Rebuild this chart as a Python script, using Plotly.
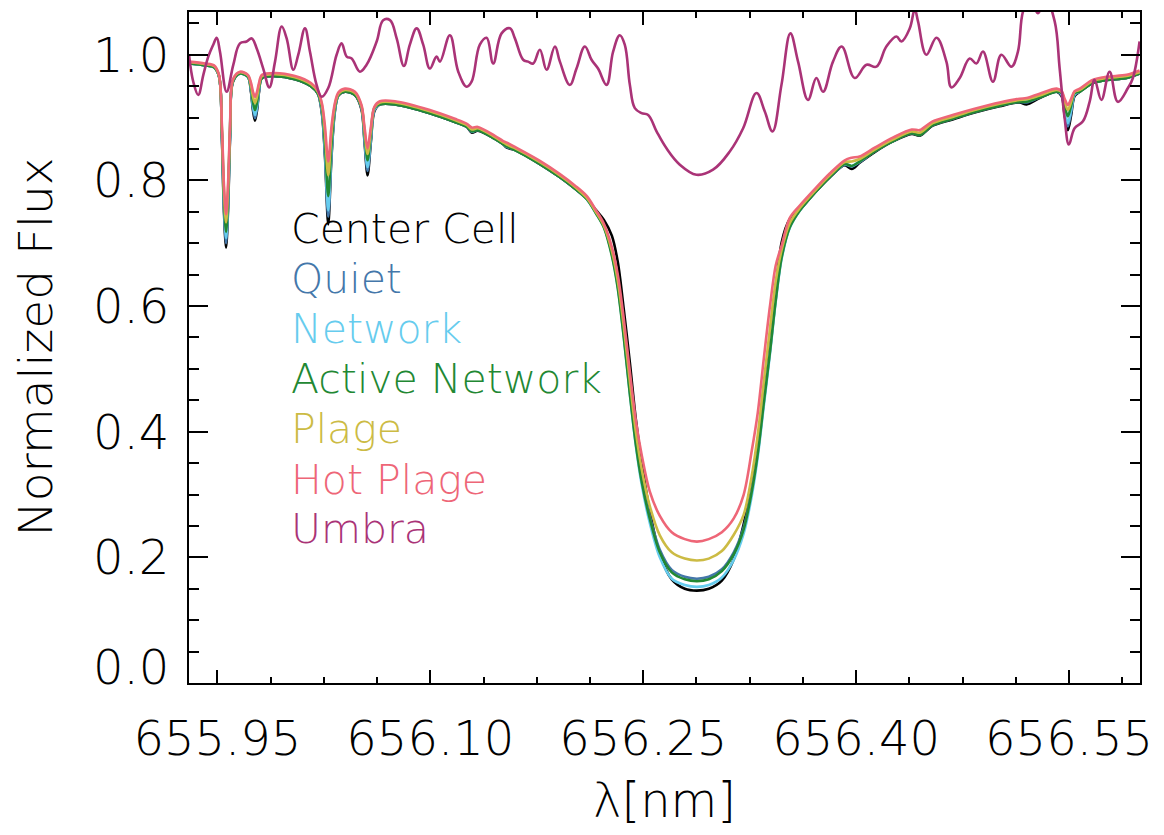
import plotly.graph_objects as go

# Wavelength grid (nm) shared by the six photospheric profiles
WAVELENGTH = [655.9300, 655.9413, 655.9476, 655.9511, 655.9532, 655.9546, 655.9561, 655.9575, 655.9589, 655.9610,
              655.9659, 655.9715, 655.9737, 655.9751, 655.9765, 655.9779, 655.9793, 655.9814, 655.9906, 656.0046,
              656.0159, 656.0208, 656.0237, 656.0258, 656.0281, 656.0304, 656.0328, 656.0353, 656.0399, 656.0469,
              656.0515, 656.0536, 656.0558, 656.0582, 656.0606, 656.0645, 656.0751, 656.0997, 656.1173, 656.1258,
              656.1293, 656.1335, 656.1455, 656.1511, 656.1539, 656.1589, 656.1772, 656.1913, 656.2018, 656.2103,
              656.2166, 656.2223, 656.2279, 656.2321, 656.2363, 656.2406, 656.2448, 656.2490, 656.2546, 656.2617,
              656.2701, 656.2793, 656.2878, 656.2962, 656.3054, 656.3138, 656.3208, 656.3265, 656.3307, 656.3349,
              656.3392, 656.3434, 656.3476, 656.3532, 656.3603, 656.3708, 656.3814, 656.3920, 656.3969, 656.4025,
              656.4131, 656.4258, 656.4392, 656.4448, 656.4539, 656.4680, 656.4835, 656.5011, 656.5152, 656.5201,
              656.5293, 656.5413, 656.5448, 656.5469, 656.5492, 656.5515, 656.5539, 656.5575, 656.5666, 656.5765,
              656.5906, 656.5997]

CENTER_CELL = [0.986, 0.983, 0.980, 0.966, 0.866, 0.752, 0.693, 0.752, 0.866, 0.957,
               0.970, 0.965, 0.940, 0.911, 0.895, 0.911, 0.940, 0.963, 0.966, 0.961,
               0.950, 0.938, 0.905, 0.838, 0.730, 0.838, 0.910, 0.935, 0.941, 0.936,
               0.913, 0.863, 0.808, 0.863, 0.910, 0.921, 0.921, 0.907, 0.893, 0.885,
               0.876, 0.879, 0.866, 0.858, 0.852, 0.849, 0.826, 0.805, 0.787, 0.771,
               0.753, 0.737, 0.712, 0.670, 0.595, 0.510, 0.420, 0.350, 0.274, 0.205,
               0.165, 0.150, 0.147, 0.150, 0.163, 0.197, 0.253, 0.320, 0.385, 0.460,
               0.534, 0.625, 0.702, 0.738, 0.753, 0.780, 0.805, 0.824, 0.818, 0.828,
               0.845, 0.862, 0.874, 0.871, 0.887, 0.897, 0.908, 0.918, 0.924, 0.921,
               0.931, 0.941, 0.934, 0.904, 0.880, 0.904, 0.934, 0.941, 0.955, 0.960,
               0.963, 0.970]

QUIET = [0.986, 0.983, 0.980, 0.966, 0.868, 0.758, 0.700, 0.758, 0.868, 0.958,
         0.970, 0.965, 0.942, 0.914, 0.899, 0.914, 0.942, 0.963, 0.966, 0.961,
         0.950, 0.938, 0.908, 0.842, 0.742, 0.842, 0.912, 0.936, 0.941, 0.936,
         0.915, 0.866, 0.815, 0.866, 0.912, 0.921, 0.921, 0.907, 0.893, 0.885,
         0.877, 0.880, 0.866, 0.858, 0.853, 0.849, 0.826, 0.805, 0.787, 0.770,
         0.749, 0.727, 0.684, 0.633, 0.556, 0.466, 0.386, 0.325, 0.266, 0.212,
         0.180, 0.169, 0.166, 0.169, 0.181, 0.208, 0.248, 0.308, 0.368, 0.447,
         0.527, 0.612, 0.680, 0.726, 0.752, 0.780, 0.805, 0.825, 0.822, 0.829,
         0.846, 0.862, 0.875, 0.872, 0.888, 0.898, 0.909, 0.919, 0.925, 0.924,
         0.932, 0.941, 0.936, 0.908, 0.886, 0.908, 0.936, 0.941, 0.955, 0.960,
         0.963, 0.970]

NETWORK = [0.986, 0.983, 0.980, 0.966, 0.871, 0.764, 0.708, 0.764, 0.871, 0.958,
           0.970, 0.965, 0.944, 0.918, 0.904, 0.918, 0.944, 0.964, 0.967, 0.962,
           0.951, 0.939, 0.910, 0.847, 0.752, 0.847, 0.913, 0.936, 0.942, 0.937,
           0.916, 0.870, 0.821, 0.870, 0.913, 0.922, 0.922, 0.908, 0.894, 0.886,
           0.878, 0.881, 0.867, 0.859, 0.854, 0.850, 0.827, 0.806, 0.788, 0.770,
           0.748, 0.726, 0.682, 0.630, 0.552, 0.460, 0.378, 0.315, 0.255, 0.200,
           0.166, 0.156, 0.153, 0.156, 0.168, 0.196, 0.238, 0.298, 0.360, 0.440,
           0.522, 0.608, 0.676, 0.724, 0.752, 0.781, 0.806, 0.826, 0.823, 0.830,
           0.847, 0.863, 0.876, 0.873, 0.889, 0.899, 0.910, 0.920, 0.926, 0.926,
           0.933, 0.942, 0.937, 0.912, 0.891, 0.912, 0.937, 0.942, 0.956, 0.961,
           0.964, 0.971]

ACTIVE_NETWORK = [0.986, 0.983, 0.980, 0.966, 0.875, 0.772, 0.718, 0.772, 0.875, 0.958,
                  0.970, 0.965, 0.947, 0.924, 0.912, 0.924, 0.947, 0.963, 0.966, 0.961,
                  0.950, 0.938, 0.914, 0.858, 0.775, 0.858, 0.916, 0.936, 0.941, 0.936,
                  0.917, 0.876, 0.832, 0.876, 0.915, 0.921, 0.921, 0.907, 0.893, 0.885,
                  0.878, 0.880, 0.866, 0.858, 0.854, 0.849, 0.826, 0.805, 0.787, 0.770,
                  0.748, 0.725, 0.680, 0.628, 0.550, 0.460, 0.380, 0.320, 0.262, 0.208,
                  0.176, 0.165, 0.162, 0.165, 0.178, 0.205, 0.245, 0.305, 0.365, 0.445,
                  0.525, 0.610, 0.678, 0.725, 0.752, 0.780, 0.805, 0.826, 0.823, 0.830,
                  0.846, 0.862, 0.875, 0.872, 0.888, 0.898, 0.909, 0.919, 0.925, 0.925,
                  0.932, 0.941, 0.939, 0.919, 0.902, 0.919, 0.939, 0.941, 0.955, 0.960,
                  0.963, 0.970]

PLAGE = [0.988, 0.985, 0.982, 0.967, 0.881, 0.784, 0.733, 0.784, 0.881, 0.960,
         0.972, 0.967, 0.951, 0.933, 0.923, 0.933, 0.951, 0.966, 0.969, 0.964,
         0.953, 0.941, 0.919, 0.875, 0.808, 0.875, 0.920, 0.938, 0.944, 0.939,
         0.918, 0.881, 0.842, 0.881, 0.916, 0.924, 0.924, 0.910, 0.896, 0.888,
         0.881, 0.883, 0.869, 0.861, 0.857, 0.852, 0.829, 0.808, 0.790, 0.772,
         0.750, 0.728, 0.688, 0.640, 0.568, 0.480, 0.400, 0.340, 0.282, 0.235,
         0.208, 0.198, 0.195, 0.198, 0.210, 0.236, 0.268, 0.330, 0.395, 0.478,
         0.562, 0.640, 0.690, 0.732, 0.756, 0.783, 0.808, 0.829, 0.830, 0.834,
         0.849, 0.865, 0.878, 0.876, 0.891, 0.901, 0.912, 0.922, 0.928, 0.929,
         0.935, 0.944, 0.941, 0.925, 0.912, 0.925, 0.941, 0.944, 0.958, 0.963,
         0.966, 0.972]

HOT_PLAGE = [0.989, 0.986, 0.983, 0.968, 0.886, 0.794, 0.746, 0.794, 0.886, 0.961,
             0.973, 0.968, 0.955, 0.941, 0.933, 0.941, 0.955, 0.968, 0.971, 0.966,
             0.955, 0.943, 0.922, 0.886, 0.830, 0.886, 0.923, 0.940, 0.946, 0.941,
             0.920, 0.886, 0.851, 0.886, 0.917, 0.926, 0.926, 0.912, 0.898, 0.890,
             0.884, 0.885, 0.871, 0.863, 0.860, 0.854, 0.831, 0.810, 0.792, 0.775,
             0.753, 0.731, 0.694, 0.650, 0.580, 0.495, 0.418, 0.362, 0.305, 0.266,
             0.240, 0.229, 0.225, 0.229, 0.240, 0.262, 0.300, 0.370, 0.430, 0.515,
             0.598, 0.665, 0.697, 0.740, 0.760, 0.786, 0.811, 0.832, 0.836, 0.838,
             0.852, 0.868, 0.881, 0.880, 0.894, 0.904, 0.914, 0.924, 0.930, 0.931,
             0.938, 0.946, 0.942, 0.930, 0.920, 0.930, 0.942, 0.946, 0.960, 0.965,
             0.968, 0.975]

# The umbral profile is sampled on its own grid
UMBRA_WAVELENGTH = [655.9300, 655.9330, 655.9365, 655.9401, 655.9436, 655.9471, 655.9495, 655.9518, 655.9565, 655.9612,
                    655.9659, 655.9706, 655.9742, 655.9777, 655.9823, 655.9866, 655.9906, 655.9953, 655.9988, 656.0035,
                    656.0070, 656.0117, 656.0152, 656.0199, 656.0235, 656.0281, 656.0340, 656.0375, 656.0411, 656.0446,
                    656.0504, 656.0551, 656.0622, 656.0668, 656.0716, 656.0763, 656.0814, 656.0856, 656.0904, 656.0950,
                    656.0997, 656.1044, 656.1068, 656.1138, 656.1197, 656.1256, 656.1291, 656.1349, 656.1397, 656.1443,
                    656.1502, 656.1561, 656.1596, 656.1654, 656.1689, 656.1725, 656.1772, 656.1819, 656.1878, 656.1913,
                    656.1983, 656.2030, 656.2089, 656.2136, 656.2182, 656.2242, 656.2288, 656.2335, 656.2370, 656.2406,
                    656.2441, 656.2488, 656.2535, 656.2594, 656.2664, 656.2758, 656.2875, 656.2992, 656.3110, 656.3204,
                    656.3298, 656.3356, 656.3411, 656.3474, 656.3537, 656.3591, 656.3661, 656.3720, 656.3767, 656.3837,
                    656.3899, 656.3990, 656.4073, 656.4143, 656.4213, 656.4284, 656.4319, 656.4378, 656.4413, 656.4436,
                    656.4495, 656.4566, 656.4636, 656.4671, 656.4730, 656.4800, 656.4847, 656.4894, 656.4964, 656.5023,
                    656.5094, 656.5140, 656.5175, 656.5223, 656.5281, 656.5335, 656.5399, 656.5434, 656.5469, 656.5499,
                    656.5539, 656.5598, 656.5645, 656.5680, 656.5728, 656.5786, 656.5844, 656.5915, 656.5950, 656.5997]

UMBRA = [1.000, 0.957, 0.936, 0.968, 0.997, 1.016, 1.027, 1.005, 0.941, 0.984,
         1.018, 1.021, 1.026, 1.010, 0.978, 0.948, 0.989, 1.045, 1.026, 0.976,
         1.000, 1.042, 1.005, 0.952, 0.933, 0.947, 1.000, 1.018, 0.997, 0.994,
         0.973, 0.984, 1.021, 1.055, 1.055, 1.026, 0.982, 1.016, 1.042, 1.016,
         0.978, 0.997, 0.989, 1.031, 0.973, 0.949, 0.957, 1.016, 1.027, 0.986,
         1.034, 1.042, 1.026, 0.992, 0.989, 0.986, 1.008, 0.976, 1.013, 0.989,
         0.952, 0.978, 1.013, 0.992, 0.978, 0.952, 1.005, 1.031, 1.016, 0.952,
         0.915, 0.907, 0.904, 0.878, 0.851, 0.825, 0.809, 0.817, 0.846, 0.883,
         0.939, 0.910, 0.878, 0.952, 1.034, 0.989, 0.928, 0.963, 0.941, 0.989,
         1.013, 0.963, 0.984, 0.981, 1.013, 1.029, 1.021, 1.042, 1.072, 1.053,
         1.000, 1.027, 0.989, 0.948, 0.963, 0.994, 0.986, 1.005, 0.957, 1.000,
         0.981, 1.005, 1.068, 1.090, 1.066, 1.090, 1.053, 0.978, 0.899, 0.857,
         0.883, 0.894, 0.925, 0.960, 0.928, 0.973, 0.925, 0.947, 0.963, 1.021]

SERIES = [
    ("Center Cell", CENTER_CELL, "#000000"),
    ("Quiet", QUIET, "#4477AA"),
    ("Network", NETWORK, "#66CCEE"),
    ("Active Network", ACTIVE_NETWORK, "#228833"),
    ("Plage", PLAGE, "#CCBB44"),
    ("Hot Plage", HOT_PLAGE, "#EE6677"),
]
UMBRA_COLOR = "#AA3377"

X_RANGE = [655.93, 656.60]
Y_RANGE = [0.0, 1.068]
Y_TICKS = [0.0, 0.2, 0.4, 0.6, 0.8, 1.0]
Y_TICKTEXT = ["", "0.2", "0.4", "0.6", "0.8", "1.0"]

FONT = "DejaVu Sans"
WEIGHT = 200
W, H = 1164, 835
M_L, M_R, M_T, M_B = 189, 24, 10, 152

fig = go.Figure()
for name, flux, color in SERIES:
    fig.add_trace(go.Scatter(x=WAVELENGTH, y=flux, mode="lines", name=name,
                             line=dict(color=color, width=2.6, shape="spline", smoothing=0.9),
                             showlegend=False, hoverinfo="skip"))
fig.add_trace(go.Scatter(x=UMBRA_WAVELENGTH, y=UMBRA, mode="lines", name="Umbra",
                         line=dict(color=UMBRA_COLOR, width=2.6, shape="spline", smoothing=1.1),
                         showlegend=False, hoverinfo="skip"))

tick_font = dict(family=FONT, size=48, color="black", weight=WEIGHT)
axis_common = dict(showline=True, linecolor="black", linewidth=2, mirror="ticks",
                   ticks="inside", tickcolor="black", tickwidth=2,
                   showgrid=False, zeroline=False, tickfont=tick_font)

fig.update_xaxes(range=X_RANGE, tickmode="linear", tick0=655.95, dtick=0.15, tickformat=".2f",
                 ticklen=13, ticklabelstandoff=12,
                 minor=dict(ticks="inside", ticklen=6, tickwidth=2, tickcolor="black",
                            tickmode="linear", tick0=655.95, dtick=0.0375, showgrid=False),
                 **axis_common)
fig.update_yaxes(range=Y_RANGE, tickmode="array", tickvals=Y_TICKS, ticktext=Y_TICKTEXT,
                 ticklen=19, ticklabelstandoff=8,
                 minor=dict(ticks="inside", ticklen=10, tickwidth=2, tickcolor="black",
                            tickmode="linear", tick0=0, dtick=0.05, showgrid=False),
                 **axis_common)

annotations = []
# the zero label sits a little above its tick
annotations.append(dict(text="0.0", x=0, xref="paper", xanchor="right", xshift=-18,
                        y=0.0, yref="y", yanchor="middle", yshift=16, showarrow=False,
                        font=tick_font))

# series labels
label_y = [228, 278, 328, 378, 428, 479, 529]
labels = [(n, c) for n, _, c in SERIES] + [("Umbra", UMBRA_COLOR)]
plot_h = H - M_T - M_B
for (name, color), py in zip(labels, label_y):
    annotations.append(dict(text=name, x=(289 - M_L) / (W - M_L - M_R), xref="paper", xanchor="left",
                            y=(H - M_B - py) / plot_h, yref="paper", yanchor="middle",
                            showarrow=False, font=dict(family=FONT, size=41, color=color, weight=WEIGHT)))

# axis titles
annotations.append(dict(text="λ[nm]", x=0.5, xref="paper", xanchor="center",
                        y=(H - M_B - 800) / plot_h, yref="paper", yanchor="middle", showarrow=False,
                        font=dict(family=FONT, size=48, color="black", weight=WEIGHT)))
annotations.append(dict(text="Normalized Flux", x=(35 - M_L) / (W - M_L - M_R), xref="paper",
                        xanchor="center", y=0.5, yref="paper", yanchor="middle", textangle=-90,
                        showarrow=False, font=dict(family=FONT, size=47, color="black", weight=WEIGHT)))

fig.update_layout(width=W, height=H, margin=dict(l=M_L, r=M_R, t=M_T, b=M_B),
                  paper_bgcolor="white", plot_bgcolor="white", annotations=annotations)

fig.write_html("out.html")
